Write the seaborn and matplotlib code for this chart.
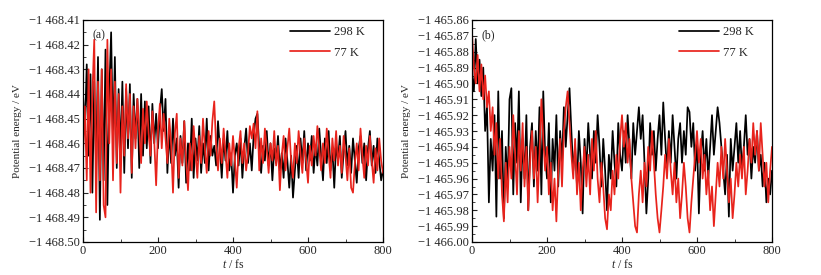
import numpy as np
import pandas as pd
import matplotlib
matplotlib.use("Agg")
import matplotlib.pyplot as plt
from matplotlib.ticker import MultipleLocator, FuncFormatter
import seaborn as sns

sns.set_style("ticks")
plt.rcParams['font.family'] = ['Liberation Serif', 'DejaVu Serif']
plt.rcParams['mathtext.fontset'] = 'custom'
plt.rcParams['mathtext.it'] = 'Liberation Serif:italic'
plt.rcParams['mathtext.rm'] = 'Liberation Serif'
plt.rcParams['xtick.direction'] = 'in'
plt.rcParams['ytick.direction'] = 'in'

# time step of the sampled curves (fs)
step = 5
labels = ["298 K", "77 K"]
colors = ["#000000", "#e8231c"]

# panel (a): energies in meV relative to -1468.45 eV
base_a = -1468.45
a298 = [10, -5, 22, -15, 18, -30, 15, -20, 25, -41,
        20, -25, 28, -35, 10, 35, -10, 25, -20, 12,
        -15, 15, -22, 12, -12, 14, -24, 10, -8, 8,
        -20, 10, -15, 7, -12, 5, -18, 6, -10, 2,
        -12, 3, 12, -5, 8, -22, -5, -18, 0, -15,
        -8, -28, -7, -18, -1, -26, -10, -21, 0, -24,
        -8, -17, -3, -22, -10, -18, 0, -21, -7, -15,
        -11, -19, -1, -12, -24, -8, -17, -5, -21, -14,
        -30, -15, -10, -19, -8, -24, -12, -4, -18, -10,
        -21, -7, 0, 2, -12, -22, -11, -17, -5, -19,
        -10, -25, -12, -18, -7, -21, -14, -24, -8, -17,
        -28, -15, -32, -21, -11, -24, -8, -18, -5, -21,
        -10, -17, -7, -22, -11, -19, -4, -15, -25, -8,
        -18, -5, -21, -12, -28, -10, -17, -7, -24, -14,
        -5, -19, -11, -22, -8, -17, -26, -12, -7, -18,
        -10, -25, -12, -5, -19, -11, -22, -8, -17, -25,
        -21]
a77 = [-15, 5, -25, 20, -30, 10, 32, -38, 15, -25,
       20, -35, -40, 32, -10, 20, -25, 15, -18, 10,
       -30, 5, -15, 14, -8, 10, -22, 5, -12, 8,
       -5, -18, 4, -10, 7, -6, -15, 3, -9, -27,
       -5, 6, -12, 2, -8, -18, 0, -10, -30, -6,
       2, -24, -8, -19, -1, -17, -29, -10, -21, -3,
       -14, -24, -7, -18, 0, -12, -22, -5, -15, -1,
       7, -11, -21, -8, -18, -4, -14, -24, -10, -19,
       -7, -17, -28, -12, -5, -18, -10, -21, -14, -3,
       -8, -2, -12, 3, -21, -8, -18, -4, -12, -22,
       -10, -17, -5, -19, -11, -29, -15, -7, -21, -12,
       -4, -17, -24, -10, -18, -5, -14, -22, -8, -17,
       -26, -11, -19, -7, -15, -3, -12, -21, -10, -18,
       -4, -14, -24, -8, -17, -5, -19, -11, -22, -7,
       -15, -25, -12, -28, -30, -18, -10, -21, -4, -15,
       -24, -11, -19, -7, -17, -26, -12, -21, -8, -17,
       -22]

# panel (b): energies in meV relative to -1465.90 eV
base_b = -1465.90
b298 = [5, -5, 28, 0, 15, -8, 10, -30, -15, -75,
        -35, -55, -20, -84, -5, -60, -30, -85, -40, -65,
        -10, -3, -70, -25, -50, -5, -75, -35, -60, -20,
        -80, -40, -25, -65, -30, -55, -15, -70, -5, -45,
        -60, -25, -75, -35, -55, -20, -65, -30, -50, -15,
        -40, -20, -3, -30, -55, -40, -65, -30, -50, -82,
        -35, -55, -25, -45, -60, -30, -50, -20, -40, -65,
        -35, -55, -80, -45, -60, -30, -50, -65, -25, -45,
        -55, -30, -50, -20, -40, -60, -25, -45, -30, -15,
        -35, -20, -50, -82, -60, -25, -45, -30, -55, -35,
        -20, -45, -12, -35, -55, -30, -50, -20, -40, -60,
        -35, -25, -50, -30, -45, -15, -18, -40, -25, -55,
        -35, -82, -45, -30, -55, -35, -60, -40, -20, -45,
        -30, -15, -25, -40, -55, -70, -45, -84, -35, -55,
        -40, -25, -50, -30, -55, -40, -20, -45, -35, -60,
        -40, -50, -30, -55, -45, -65, -50, -75, -60, -70,
        -55]
b77 = [32, 10, 0, 18, -5, 12, -10, 5, -15, -5,
       -30, -15, -45, -25, -60, -35, -70, -87, -50, -75,
       -40, -60, -20, -45, -70, -30, -55, -25, -65, -40,
       -80, -50, -30, -60, -40, -75, -45, -10, -35, -55,
       -40, -70, -50, -80, -60, -87, -55, -35, -65, -30,
       -15, -5, -25, -45, -60, -35, -70, -50, -80, -55,
       -40, -65, -45, -70, -35, -55, -30, -60, -75, -50,
       -65, -85, -92, -70, -80, -55, -70, -45, -60, -35,
       -20, -40, -25, -50, -35, -60, -75, -90, -94, -70,
       -55, -75, -50, -65, -40, -55, -30, -50, -70, -85,
       -94, -80, -65, -45, -60, -35, -55, -70, -50, -75,
       -60, -85, -70, -50, -65, -85, -94, -75, -60, -45,
       -30, -50, -35, -60, -45, -70, -55, -80, -65, -90,
       -70, -50, -65, -40, -60, -35, -55, -75, -60, -85,
       -70, -50, -65, -45, -60, -40, -70, -55, -35, -50,
       -25, -45, -30, -55, -25, -45, -65, -50, -75, -55,
       -40]


def to_frame(base, series):
    parts = []
    for lab, vals in zip(labels, series):
        v = np.asarray(vals, dtype=float)
        parts.append(pd.DataFrame({"t": np.arange(len(v)) * step,
                                   "E": base + v / 1000.0,
                                   "T": lab}))
    return pd.concat(parts, ignore_index=True)


def energy_fmt(v, pos):
    s = f"{abs(v):,.2f}".replace(",", " ")
    return ("\u2212" if v < 0 else "") + s


fig = plt.figure(figsize=(8.21, 2.75), dpi=100)
ax_a = fig.add_axes([83 / 821, 33 / 275, 300 / 821, 222 / 275])
ax_b = fig.add_axes([472 / 821, 33 / 275, 300 / 821, 222 / 275])

panels = [
    (ax_a, to_frame(base_a, [a298, a77]), (-1468.50, -1468.41), "(a)"),
    (ax_b, to_frame(base_b, [b298, b77]), (-1466.00, -1465.86), "(b)"),
]

for ax, df, ylim, tag in panels:
    sns.lineplot(data=df, x="t", y="E", hue="T", hue_order=labels,
                 palette=colors, estimator=None, linewidth=1.25, ax=ax)
    ax.set_xlim(0, 800)
    ax.set_ylim(*ylim)
    ax.xaxis.set_major_locator(MultipleLocator(200))
    ax.xaxis.set_minor_locator(MultipleLocator(100))
    ax.yaxis.set_major_locator(MultipleLocator(0.01))
    ax.yaxis.set_minor_locator(MultipleLocator(0.005))
    ax.yaxis.set_major_formatter(FuncFormatter(energy_fmt))
    ax.tick_params(which="major", length=3.5, width=0.8, labelsize=9, pad=2)
    ax.tick_params(which="minor", length=2, width=0.6)
    for sp in ax.spines.values():
        sp.set_linewidth(0.9)
        sp.set_color("black")
    ax.set_xlabel("$t$ / fs", fontsize=8.5, labelpad=1)
    ax.set_ylabel("Potential energy / eV", fontsize=8, labelpad=5)
    ax.text(0.03, 0.96, tag, transform=ax.transAxes, va="top", ha="left",
            fontsize=8.5)
    handles, labs = ax.get_legend_handles_labels()
    ax.legend(handles, labs, loc="upper right", frameon=False, fontsize=9,
              handlelength=3.2, labelspacing=0.7, borderaxespad=0,
              handletextpad=0.3, bbox_to_anchor=(1 - 13 / 300, 1 - 1 / 222))

fig.savefig("out.png", dpi=100)
